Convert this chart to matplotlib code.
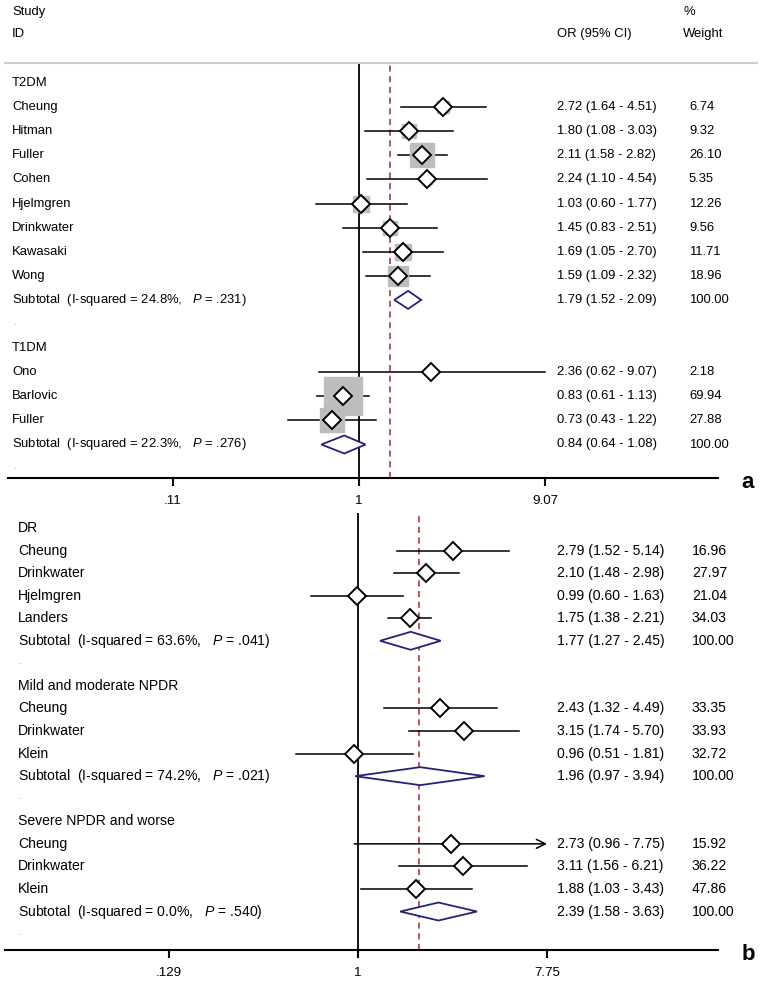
import numpy as np
import matplotlib
matplotlib.use('Agg')
import matplotlib.pyplot as plt
from matplotlib import font_manager, transforms
from matplotlib.patches import Polygon
from matplotlib.lines import Line2D

# ---- panel a : T2DM / T1DM ----
t2_names = ['Cheung', 'Hitman', 'Fuller', 'Cohen', 'Hjelmgren', 'Drinkwater', 'Kawasaki', 'Wong']
t2_or = [2.72, 1.80, 2.11, 2.24, 1.03, 1.45, 1.69, 1.59]
t2_lo = [1.64, 1.08, 1.58, 1.10, 0.60, 0.83, 1.05, 1.09]
t2_hi = [4.51, 3.03, 2.82, 4.54, 1.77, 2.51, 2.70, 2.32]
t2_w = [6.74, 9.32, 26.10, 5.35, 12.26, 9.56, 11.71, 18.96]
t2_sub = [1.79, 1.52, 2.09]
t2_stat = ['24.8', '.231']

t1_names = ['Ono', 'Barlovic', 'Fuller']
t1_or = [2.36, 0.83, 0.73]
t1_lo = [0.62, 0.61, 0.43]
t1_hi = [9.07, 1.13, 1.22]
t1_w = [2.18, 69.94, 27.88]
t1_sub = [0.84, 0.64, 1.08]
t1_stat = ['22.3', '.276']

# ---- panel b : DR / mild-moderate NPDR / severe NPDR ----
dr_names = ['Cheung', 'Drinkwater', 'Hjelmgren', 'Landers']
dr_or = [2.79, 2.10, 0.99, 1.75]
dr_lo = [1.52, 1.48, 0.60, 1.38]
dr_hi = [5.14, 2.98, 1.63, 2.21]
dr_w = [16.96, 27.97, 21.04, 34.03]
dr_sub = [1.77, 1.27, 2.45]
dr_stat = ['63.6', '.041']

mild_names = ['Cheung', 'Drinkwater', 'Klein']
mild_or = [2.43, 3.15, 0.96]
mild_lo = [1.32, 1.74, 0.51]
mild_hi = [4.49, 5.70, 1.81]
mild_w = [33.35, 33.93, 32.72]
mild_sub = [1.96, 0.97, 3.94]
mild_stat = ['74.2', '.021']

sev_names = ['Cheung', 'Drinkwater', 'Klein']
sev_or = [2.73, 3.11, 1.88]
sev_lo = [0.96, 1.56, 1.03]
sev_hi = [7.75, 6.21, 3.43]
sev_w = [15.92, 36.22, 47.86]
sev_sub = [2.39, 1.58, 3.63]
sev_stat = ['0.0', '.540']

overall_a = 1.44
overall_b = 1.94
ticks_a = [0.11, 1, 9.07]
ticklabels_a = ['.11', '1', '9.07']
ticks_b = [0.129, 1, 7.75]
ticklabels_b = ['.129', '1', '7.75']

W, H = 760, 982
names = {f.name for f in font_manager.fontManager.ttflist}
if 'Liberation Sans Narrow' in names:
    font_a, size_a = 'Liberation Sans Narrow', 11
else:
    font_a, size_a = 'Liberation Sans', 9.4
font_b, size_b = 'Liberation Sans', 10.1

plt.rcParams['font.family'] = ['Liberation Sans', 'DejaVu Sans']
plt.rcParams['mathtext.fontset'] = 'custom'
plt.rcParams['mathtext.it'] = 'Liberation Sans:italic'
plt.rcParams['mathtext.rm'] = 'Liberation Sans'

fig = plt.figure(figsize=(W / 100, H / 100), dpi=100)
fig.patch.set_facecolor('white')


def fx(px):
    return px / W


def fy(py):
    return 1 - py / H


def draw_panel(ax, groups, y0, step, top, bottom, ln1, scale, overall,
               ticks, ticklabels, ax_left, ax_right, label_x, or_x, w_x,
               font, size, boxes, letter, arrow_at=None):
    r_top = (top - y0) / step
    r_bot = (bottom - y0) / step
    ax.set_position([0, fy(bottom), 1, (bottom - top) / H])
    ax.set_xscale('log')
    ax.set_xlim(np.exp(-ln1 / scale), np.exp((W - ln1) / scale))
    ax.set_ylim(r_bot, r_top)
    for s in ['top', 'left', 'right']:
        ax.spines[s].set_visible(False)
    ax.spines['bottom'].set_linewidth(1.5)
    ax.spines['bottom'].set_bounds(np.exp((ax_left - ln1) / scale),
                                   np.exp((ax_right - ln1) / scale))
    ax.set_yticks([])
    ax.set_xticks(ticks)
    ax.set_xticklabels(ticklabels, fontfamily='Liberation Sans', fontsize=9.6)
    ax.xaxis.set_minor_locator(matplotlib.ticker.NullLocator())
    ax.tick_params(axis='x', direction='out', length=6, width=1.5, pad=6)
    ax.axvline(1, color='black', lw=1.3, zorder=1)
    ax.axvline(overall, color='#a3282e', lw=1.1, ls=(0, (4, 3)), zorder=1)

    tr = transforms.blended_transform_factory(fig.transFigure, ax.transData)
    hh = 9 / step
    r = 0
    for title, nm, est, lo, hi, w, sub, stat in groups:
        ax.text(fx(label_x), r, title, transform=tr, va='center',
                fontfamily=font, fontsize=size)
        r += 1
        for i in range(len(nm)):
            ax.text(fx(label_x), r, nm[i], transform=tr, va='center',
                    fontfamily=font, fontsize=size)
            if arrow_at is not None and hi[i] >= arrow_at:
                ax.annotate('', xy=(hi[i], r), xytext=(lo[i], r),
                            arrowprops=dict(arrowstyle='->', lw=1.1,
                                            color='black', mutation_scale=16,
                                            shrinkA=0, shrinkB=0))
            else:
                ax.plot([lo[i], hi[i]], [r, r], color='black', lw=1.1, zorder=2)
            if boxes:
                side = 4.66 * np.sqrt(w[i]) * 0.72
                ax.plot(est[i], r, marker='s', ms=side, color='#bdbdbd',
                        mec='#bdbdbd', zorder=2)
            ax.plot(est[i], r, marker='D', ms=9.0, mfc='white', mec='black',
                    mew=1.4, zorder=3)
            ax.text(fx(or_x), r, f'{est[i]:.2f} ({lo[i]:.2f} - {hi[i]:.2f})',
                    transform=tr, va='center', fontfamily=font, fontsize=size)
            ax.text(fx(w_x), r, f'{w[i]:.2f}', transform=tr, va='center',
                    fontfamily=font, fontsize=size)
            r += 1
        ax.add_patch(Polygon([[sub[1], r], [sub[0], r - hh], [sub[2], r],
                              [sub[0], r + hh]], closed=True, fc='white',
                             ec='#23237a', lw=1.3, zorder=3))
        ax.text(fx(label_x), r,
                f'Subtotal  (I-squared = {stat[0]}%,   $\\mathit{{P}}$ = {stat[1]})',
                transform=tr, va='center', fontfamily=font, fontsize=size)
        ax.text(fx(or_x), r, f'{sub[0]:.2f} ({sub[1]:.2f} - {sub[2]:.2f})',
                transform=tr, va='center', fontfamily=font, fontsize=size)
        ax.text(fx(w_x), r, '100.00', transform=tr, va='center',
                fontfamily=font, fontsize=size)
        r += 1
        ax.text(fx(label_x + 1), r - 0.1, '.', transform=tr, va='center',
                fontfamily=font, fontsize=size - 2, color='#999999')
        r += 1
    fig.text(fx(748), fy(bottom + 5), letter, fontsize=16, fontweight='bold',
             ha='center', va='center', fontfamily=['Liberation Sans', 'DejaVu Sans'])


# header of the table
for txt, x, y in [('Study', 12, 12), ('ID', 12, 34), ('OR (95% CI)', 557, 34),
                  ('%', 683, 12), ('Weight', 683, 34)]:
    fig.text(fx(x), fy(y), txt, va='center', fontfamily=font_a, fontsize=size_a)
fig.add_artist(Line2D([fx(5), fx(757)], [fy(63), fy(63)], color='#cccccc', lw=1.5))

groups_a = [
    ('T2DM', t2_names, t2_or, t2_lo, t2_hi, t2_w, t2_sub, t2_stat),
    ('T1DM', t1_names, t1_or, t1_lo, t1_hi, t1_w, t1_sub, t1_stat),
]
groups_b = [
    ('DR', dr_names, dr_or, dr_lo, dr_hi, dr_w, dr_sub, dr_stat),
    ('Mild and moderate NPDR', mild_names, mild_or, mild_lo, mild_hi, mild_w, mild_sub, mild_stat),
    ('Severe NPDR and worse', sev_names, sev_or, sev_lo, sev_hi, sev_w, sev_sub, sev_stat),
]

ax_a = fig.add_axes([0, 0.5, 1, 0.4])
draw_panel(ax_a, groups_a, y0=83, step=24.1, top=63, bottom=478, ln1=359,
           scale=84.4, overall=overall_a, ticks=ticks_a, ticklabels=ticklabels_a,
           ax_left=8, ax_right=718, label_x=12, or_x=557, w_x=689,
           font=font_a, size=size_a, boxes=True, letter='a')

ax_b = fig.add_axes([0, 0.05, 1, 0.4])
draw_panel(ax_b, groups_b, y0=528, step=22.56, top=513, bottom=950, ln1=358,
           scale=92.3, overall=overall_b, ticks=ticks_b, ticklabels=ticklabels_b,
           ax_left=5, ax_right=718, label_x=18, or_x=557, w_x=692,
           font=font_b, size=size_b, boxes=False, letter='b', arrow_at=7.75)

fig.savefig('out.png', dpi=100)
